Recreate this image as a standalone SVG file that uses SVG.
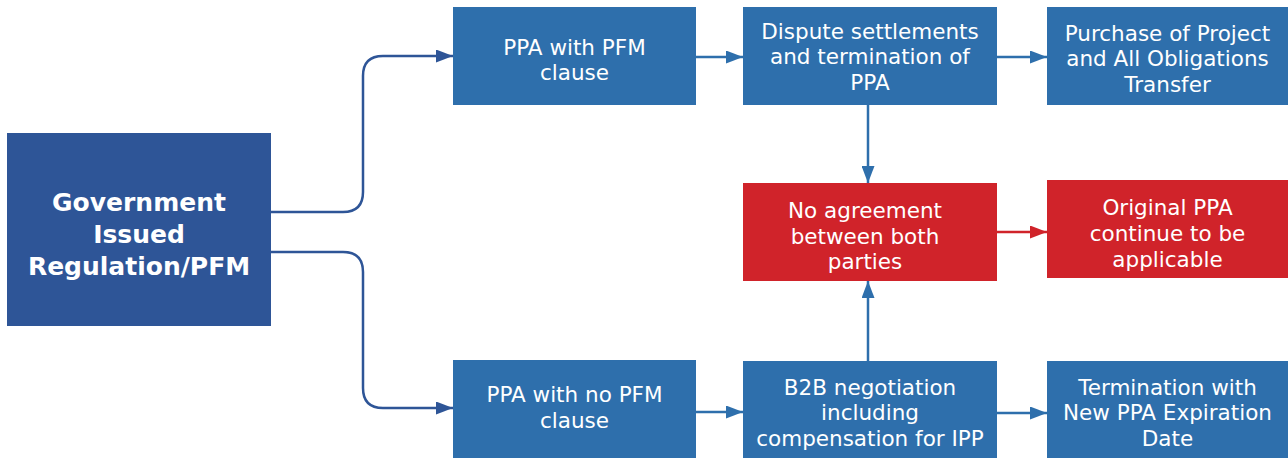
<svg xmlns="http://www.w3.org/2000/svg" width="1288" height="459" viewBox="0 0 1288 459">
  <style>
    .box { fill: #2E6FAC; }
    .main { fill: #2E5597; }
    .red { fill: #D0232A; }
    text { font-family: "DejaVu Sans", "Open Sans", sans-serif; fill: #FFFFFF; text-anchor: middle; font-size: 21.5px; }
    .bold { font-weight: bold; font-size: 25px; }
    .link { fill: none; stroke: #2E6FAC; stroke-width: 2.5; }
    .link-dark { fill: none; stroke: #2E5597; stroke-width: 2.5; }
    .link-red { fill: none; stroke: #D0232A; stroke-width: 2.5; }
  </style>
  <defs>
    <marker id="arrow-blue" viewBox="0 0 17 13" refX="17" refY="6.5" markerUnits="userSpaceOnUse" markerWidth="17" markerHeight="13" orient="auto">
      <path d="M0,0 L17,6.5 L0,13 z" fill="#2E6FAC"/>
    </marker>
    <marker id="arrow-dark" viewBox="0 0 17 13" refX="17" refY="6.5" markerUnits="userSpaceOnUse" markerWidth="17" markerHeight="13" orient="auto">
      <path d="M0,0 L17,6.5 L0,13 z" fill="#2E5597"/>
    </marker>
    <marker id="arrow-red" viewBox="0 0 17 13" refX="17" refY="6.5" markerUnits="userSpaceOnUse" markerWidth="17" markerHeight="13" orient="auto">
      <path d="M0,0 L17,6.5 L0,13 z" fill="#D0232A"/>
    </marker>
  </defs>

  <!-- connectors -->
  <g id="connectors">
    <path class="link-dark" d="M271,212 H343 Q363,212 363,192 V76 Q363,56 383,56 H453" marker-end="url(#arrow-dark)"/>
    <path class="link-dark" d="M271,252 H343 Q363,252 363,272 V388 Q363,408 383,408 H453" marker-end="url(#arrow-dark)"/>
    <path class="link" d="M696,57 H743" marker-end="url(#arrow-blue)"/>
    <path class="link" d="M997,57 H1047" marker-end="url(#arrow-blue)"/>
    <path class="link" d="M868,105 V183" marker-end="url(#arrow-blue)"/>
    <path class="link" d="M868,361 V281" marker-end="url(#arrow-blue)"/>
    <path class="link-red" d="M997,232 H1047" marker-end="url(#arrow-red)"/>
    <path class="link" d="M696,412 H743" marker-end="url(#arrow-blue)"/>
    <path class="link" d="M997,413 H1047" marker-end="url(#arrow-blue)"/>
  </g>

  <g id="gov">
    <rect class="main" x="7" y="133" width="264" height="193"/>
    <text class="bold" x="139" y="211">Government</text>
    <text class="bold" x="139" y="243">Issued</text>
    <text class="bold" x="139" y="275">Regulation/PFM</text>
  </g>

  <g id="ppa-pfm">
    <rect class="box" x="453" y="7" width="243" height="98"/>
    <text x="574.5" y="55">PPA with PFM</text>
    <text x="574.5" y="80">clause</text>
  </g>

  <g id="dispute">
    <rect class="box" x="743" y="7" width="254" height="98"/>
    <text x="870" y="39">Dispute settlements</text>
    <text x="870" y="64">and termination of</text>
    <text x="870" y="90">PPA</text>
  </g>

  <g id="purchase">
    <rect class="box" x="1047" y="7" width="241" height="98"/>
    <text x="1167.5" y="41">Purchase of Project</text>
    <text x="1167.5" y="66">and All Obligations</text>
    <text x="1167.5" y="92">Transfer</text>
  </g>

  <g id="no-agreement">
    <rect class="red" x="743" y="183" width="254" height="98"/>
    <text x="865" y="218">No agreement</text>
    <text x="865" y="244">between both</text>
    <text x="865" y="269">parties</text>
  </g>

  <g id="original">
    <rect class="red" x="1047" y="180" width="241" height="98"/>
    <text x="1167.5" y="215">Original PPA</text>
    <text x="1167.5" y="241">continue to be</text>
    <text x="1167.5" y="267">applicable</text>
  </g>

  <g id="ppa-no-pfm">
    <rect class="box" x="453" y="360" width="243" height="98"/>
    <text x="574.5" y="402">PPA with no PFM</text>
    <text x="574.5" y="428">clause</text>
  </g>

  <g id="b2b">
    <rect class="box" x="743" y="361" width="254" height="97"/>
    <text x="870" y="395">B2B negotiation</text>
    <text x="870" y="420">including</text>
    <text x="870" y="446">compensation for IPP</text>
  </g>

  <g id="termination">
    <rect class="box" x="1047" y="361" width="241" height="97"/>
    <text x="1167.5" y="395">Termination with</text>
    <text x="1167.5" y="420">New PPA Expiration</text>
    <text x="1167.5" y="446">Date</text>
  </g>
</svg>
